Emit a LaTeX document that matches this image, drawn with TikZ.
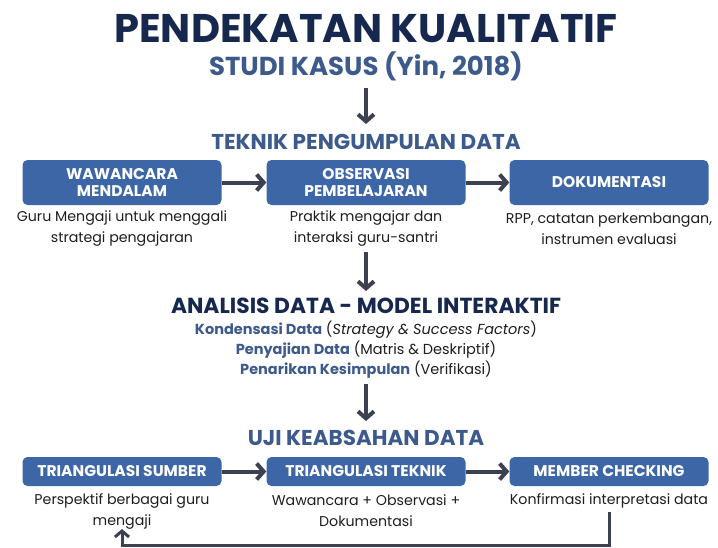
\documentclass[tikz,border=0pt]{standalone}
\usepackage{fontspec}
\setmainfont{Poppins}
\usetikzlibrary{arrows.meta}

\definecolor{navy}{HTML}{17284F}
\definecolor{steel}{HTML}{3C5A8C}
\definecolor{boxblue}{HTML}{3D66A6}
\definecolor{arrowgray}{HTML}{3B4150}
\definecolor{textdark}{HTML}{1E1E1E}

\begin{document}
\begin{tikzpicture}[x=1pt, y=-1pt,
	stepbox/.style={fill=boxblue, rounded corners=5pt, text=white, font=\bfseries\fontsize{15.5}{17}\selectfont, align=center, minimum width=199pt, inner sep=0pt},
	desc/.style={text=textdark, font=\fontsize{14.2}{21}\selectfont, align=center, inner sep=0pt},
	head/.style={text=steel, font=\bfseries\fontsize{21.5}{24}\selectfont, inner sep=0pt},
	flow/.style={draw=arrowgray, line width=4pt, -{Straight Barb[length=7pt, width=16pt]}}]
		% \draw[help lines] (0,0) grid (718,547);
		\useasboundingbox (0,0) rectangle (718,547);

		\node[text=navy, font=\bfseries\fontsize{40}{44}\selectfont, inner sep=0pt] (title) at (366, 29) {PENDEKATAN KUALITATIF};
		\node[text=steel, font=\bfseries\fontsize{26}{30}\selectfont, inner sep=0pt] (sub) at (366, 66) {STUDI KASUS (Yin, 2018)};
		\node[head] (teknik) at (366, 142) {TEKNIK PENGUMPULAN DATA};

		\node[stepbox, minimum height=45pt] (w) at (122, 182.5) {WAWANCARA\\MENDALAM};
		\node[stepbox, minimum height=45pt] (o) at (366, 182.5) {OBSERVASI\\PEMBELAJARAN};
		\node[stepbox, minimum height=45pt] (d) at (609, 182.5) {DOKUMENTASI};
		\node[desc] (wd) at (122, 228.5) {Guru Mengaji untuk menggali\\strategi pengajaran};
		\node[desc] (od) at (366, 228.5) {Praktik mengajar dan\\interaksi guru-santri};
		\node[desc] (dd) at (609, 228.5) {RPP, catatan perkembangan,\\instrumen evaluasi};

		\node[text=navy, font=\bfseries\fontsize{21.8}{26}\selectfont, inner sep=0pt] (analisis) at (366, 306) {ANALISIS DATA - MODEL INTERAKTIF};
		\node[desc, font=\fontsize{14.5}{20}\selectfont] (steps) at (366, 350) {\textcolor{steel}{\bfseries Kondensasi Data} (\textit{Strategy \& Success Factors})\\
			\textcolor{steel}{\bfseries Penyajian Data} (Matris \& Deskriptif)\\
			\textcolor{steel}{\bfseries Penarikan Kesimpulan} (Verifikasi)};

		\node[head] (uji) at (366, 438) {UJI KEABSAHAN DATA};
		\node[stepbox, minimum height=29pt] (ts) at (122, 471.5) {TRIANGULASI SUMBER};
		\node[stepbox, minimum height=29pt] (tt) at (366, 471.5) {TRIANGULASI TEKNIK};
		\node[stepbox, minimum height=29pt] (mc) at (609, 471.5) {MEMBER CHECKING};
		\node[desc] (tsd) at (122, 511) {Perspektif berbagai guru\\mengaji};
		\node[desc] (ttd) at (366, 511) {Wawancara + Observasi +\\Dokumentasi};
		\node[desc] (mcd) at (609, 501) {Konfirmasi interpretasi data};

		\coordinate (back) at (609, 545);
		\coordinate (front) at (122, 545);

		\draw[flow] (sub.south |- 0,88) -- (teknik.north |- 0,124);
		\draw[flow] (w) -- (o);
		\draw[flow] (o) -- (d);
		\draw[flow] (366, 252) -- (analisis.north |- 0,291);
		\draw[flow] (366, 384) -- (uji.north |- 0,421);
		\draw[flow] (ts) -- (tt);
		\draw[flow] (tt) -- (mc);
		\draw[draw=arrowgray, line width=3pt, -{Straight Barb[length=6pt, width=14pt]}] (mcd.south |- 0,512) -- (back) -- (front) -- (122, 529);
	\end{tikzpicture}
\end{document}
